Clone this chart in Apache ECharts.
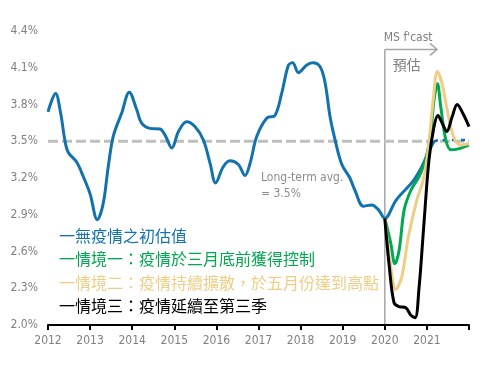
<!DOCTYPE html>
<html><head><meta charset="utf-8">
<script src="https://cdn.jsdelivr.net/npm/echarts@6/dist/echarts.min.js"></script>
<style>html,body{margin:0;padding:0;background:#fff}#c{width:484px;height:377px}</style>
</head><body><div id="c"></div>
<script>
// ---- data ----
var xTicks = [2012,2013,2014,2015,2016,2017,2018,2019,2020,2021];
var yTickLabels = ['2.0%','2.3%','2.6%','2.9%','3.2%','3.5%','3.8%','4.1%','4.4%'];
var longTermAvg = 3.5;
var forecastStart = 2020;
var baselineDashFrom = 2021.17;
var seriesNames = ['一無疫情之初估值','一情境一：疫情於三月底前獲得控制','一情境二：疫情持續擴散，於五月份達到高點','一情境三：疫情延續至第三季'];
var baseline = [
 [2012.00,3.74],[2012.18,3.89],[2012.30,3.73],[2012.40,3.51],[2012.48,3.41],[2012.68,3.33],[2012.84,3.21],
 [2013.00,3.07],[2013.17,2.86],[2013.31,2.99],[2013.43,3.29],[2013.55,3.54],[2013.75,3.73],[2013.93,3.90],
 [2014.11,3.755],[2014.22,3.65],[2014.42,3.605],[2014.66,3.60],[2014.78,3.55],[2014.94,3.445],
 [2015.10,3.58],[2015.29,3.66],[2015.49,3.62],[2015.69,3.51],[2015.85,3.32],[2015.98,3.16],
 [2016.16,3.29],[2016.32,3.34],[2016.52,3.31],[2016.68,3.22],[2016.80,3.32],[2016.96,3.54],
 [2017.20,3.69],[2017.39,3.71],[2017.55,3.89],[2017.71,4.12],[2017.81,4.14],[2017.95,4.06],
 [2018.14,4.12],[2018.28,4.14],[2018.46,4.11],[2018.58,3.98],[2018.70,3.70],[2018.82,3.51],[2018.98,3.31],
 [2019.17,3.20],[2019.29,3.10],[2019.49,2.97],[2019.69,2.98],[2019.85,2.94],
 [2020.00,2.87],[2020.27,3.02],[2020.66,3.17],[2020.86,3.28],[2021.02,3.40],[2021.17,3.50],[2021.30,3.51],[2022.00,3.51]
];
var scenario1 = [
 [2020.00,2.87],[2020.14,2.67],[2020.24,2.50],[2020.34,2.61],[2020.46,2.94],[2020.62,3.10],[2020.81,3.21],
 [2020.97,3.35],[2021.09,3.57],[2021.17,3.84],[2021.25,3.97],[2021.33,3.78],[2021.45,3.51],[2021.57,3.43],
 [2021.77,3.44],[2022.00,3.47]
];
var scenario2 = [
 [2020.00,2.87],[2020.14,2.48],[2020.26,2.29],[2020.40,2.39],[2020.56,2.72],[2020.76,3.02],[2020.91,3.18],
 [2021.03,3.43],[2021.15,3.84],[2021.25,4.07],[2021.36,3.97],[2021.48,3.76],[2021.63,3.54],[2021.79,3.47],
 [2022.00,3.48]
];
var scenario3 = [
 [2020.00,2.87],[2020.10,2.50],[2020.22,2.18],[2020.34,2.15],[2020.50,2.14],[2020.62,2.08],[2020.72,2.06],
 [2020.81,2.29],[2020.93,2.83],[2021.05,3.35],[2021.17,3.62],[2021.26,3.71],[2021.36,3.65],[2021.47,3.58],
 [2021.60,3.70],[2021.72,3.80],[2021.85,3.73],[2022.00,3.62]
];
var colors = ['#1272ad','#00a94f','#efcd85','#000000'];

// ---- chart ----
var NARROW = "'Liberation Sans Narrow','Arial Narrow','DejaVu Sans Condensed',sans-serif";
var CJK = "'Noto Sans CJK TC','Noto Sans CJK SC',sans-serif";
var chart = echarts.init(document.getElementById('c'), null, {renderer:'canvas'});
var grid = {left:48, right:15, top:31, bottom:52};
function lineSeries(name, data, color, z, dash, width){
  return {name:name, type:'line', data:data, smooth:0.35, showSymbol:false, symbol:'none',
    lineStyle:{color:color, width:width||3, type:dash||'solid'}, itemStyle:{color:color}, z:z, animation:false};
}
var baseSolid = baseline.filter(function(p){ return p[0] <= baselineDashFrom; });
var baseTail = baseline.filter(function(p){ return p[0] >= baselineDashFrom; });
chart.setOption({
  animation:false,
  grid:grid,
  xAxis:{type:'value', min:2012, max:2022, interval:1,
    axisLine:{show:true, lineStyle:{color:'#000', width:2}},
    axisTick:{show:true, length:5, lineStyle:{color:'#000', width:2}},
    axisLabel:{color:'#808080', fontFamily:NARROW, fontSize:12, margin:10,
      formatter:function(v){ return xTicks.indexOf(v) >= 0 ? String(v) : ''; }},
    splitLine:{show:false}},
  yAxis:[
    {type:'value', min:2.0, max:4.4, show:false},
    {type:'value', min:0, max:yTickLabels.length-1, interval:1, position:'left',
      axisLine:{show:false}, axisTick:{show:false}, splitLine:{show:false},
      axisLabel:{color:'#808080', fontFamily:NARROW, fontSize:12, margin:10,
        formatter:function(v){ return yTickLabels[v] || ''; }}}
  ],
  series:[
    {name:'avg', type:'line', data:[[2012,longTermAvg],[2022,longTermAvg]], showSymbol:false, symbol:'none',
      lineStyle:{color:'#bfbfbf', width:3, type:[10,4]}, z:1, silent:true},
    lineSeries(seriesNames[0], baseSolid, colors[0], 2),
    lineSeries(seriesNames[0], baseTail, colors[0], 2, [4,5], 2.5),
    lineSeries(seriesNames[1], scenario1, colors[1], 3),
    lineSeries(seriesNames[2], scenario2, colors[2], 4),
    lineSeries(seriesNames[3], scenario3, colors[3], 5)
  ]
});

var pTop = chart.convertToPixel({xAxisIndex:0, yAxisIndex:0}, [forecastStart, 4.25]);
var pBot = chart.convertToPixel({xAxisIndex:0, yAxisIndex:0}, [forecastStart, 2.0]);
var pArr = chart.convertToPixel({xAxisIndex:0, yAxisIndex:0}, [2021.24, 4.25]);
var pAvg = chart.convertToPixel({xAxisIndex:0, yAxisIndex:0}, [2017.06, 3.27]);
var gray = '#a6a6a6';
var g = [
  {type:'line', shape:{x1:pTop[0], y1:pTop[1], x2:pBot[0], y2:pBot[1]}, style:{stroke:gray, lineWidth:1.5}, z:0},
  {type:'line', shape:{x1:pTop[0], y1:pTop[1], x2:pArr[0], y2:pArr[1]}, style:{stroke:gray, lineWidth:1.5}},
  {type:'polyline', shape:{points:[[pArr[0]-7,pArr[1]-6],[pArr[0],pArr[1]],[pArr[0]-7,pArr[1]+6]]}, style:{stroke:gray, lineWidth:1.5, fill:null}},
  {type:'text', x:pTop[0]-1, y:pTop[1]-6, style:{text:"MS f'cast", fill:'#808080', font:"12px "+NARROW, textVerticalAlign:'bottom', textAlign:'left'}},
  {type:'text', x:pTop[0]+8, y:pTop[1]+15, style:{text:'預估', fill:'#808080', font:"14px "+CJK, textVerticalAlign:'middle', textAlign:'left'}},
  {type:'text', x:pAvg[0], y:pAvg[1], style:{text:'Long-term avg.\n= 3.5%', fill:'#8c8c8c', font:"12px "+NARROW, lineHeight:16, textVerticalAlign:'top', textAlign:'left'}}
];
var legTop = 236;
for (var i=0;i<seriesNames.length;i++){
  g.push({type:'text', x:59, y:legTop + i*23.3, style:{text:seriesNames[i], fill:colors[i], font:"16px "+CJK, textVerticalAlign:'middle', textAlign:'left'}, z:10});
}
chart.setOption({graphic:g});
</script></body></html>
